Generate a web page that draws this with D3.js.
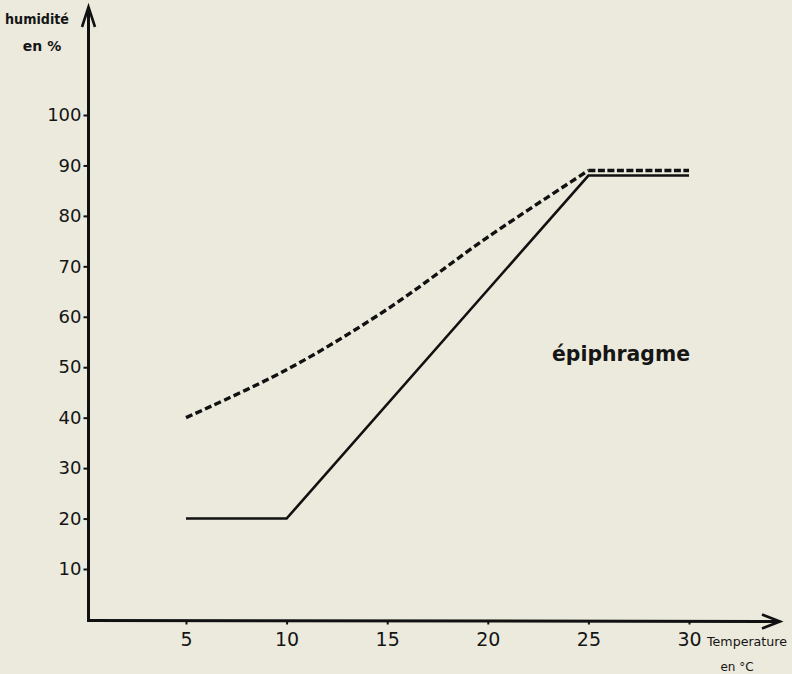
<!DOCTYPE html>
<html>
<head>
<meta charset="utf-8">
<script src="https://cdn.jsdelivr.net/npm/d3@7/dist/d3.min.js"></script>
<style>
  html, body { margin: 0; padding: 0; background: #ebeadc; }
  svg { display: block; }
  text { fill: #151515; font-family: "DejaVu Sans", sans-serif; }
</style>
</head>
<body>
<svg id="chart" width="792" height="674"></svg>
<script>
// ---- data ----
const temperatures = [5, 10, 15, 20, 25, 30];          // °C
const dashedHumidity = [40, 49.5, 61.5, 75.8, 89, 89]; // dashed curve
const solidTemps = [5, 10, 25, 30];
const solidHumidity = [20, 20, 88, 88];                 // solid line
const xTicks = [5, 10, 15, 20, 25, 30];
const yTicks = [10, 20, 30, 40, 50, 60, 70, 80, 90, 100];
const curveLabel = "épiphragme";
const yTitle = ["humidité", "en %"];
const xTitle = ["Temperature", "en °C"];

// ---- scales ----
const x = d3.scaleLinear().domain([5, 30]).range([186, 689]);
const y = d3.scaleLinear().domain([10, 100]).range([569, 115]);

const svg = d3.select("#chart");
const ink = "#111";
const originX = 88.5, originY = 620.5;

// axis lines with arrow heads
svg.append("line").attr("x1", originX).attr("y1", originY + 1)
  .attr("x2", originX).attr("y2", 8)
  .attr("stroke", ink).attr("stroke-width", 3);
svg.append("path").attr("d", `M${originX - 6.5},27 L${originX},7 L${originX + 6.5},27`)
  .attr("fill", "none").attr("stroke", ink).attr("stroke-width", 2.6).attr("stroke-linejoin", "miter");

svg.append("line").attr("x1", originX - 1.5).attr("y1", originY)
  .attr("x2", 779).attr("y2", originY + 1)
  .attr("stroke", ink).attr("stroke-width", 3);
svg.append("path").attr("d", `M762,614.5 L780,621.5 L762,628.5`)
  .attr("fill", "none").attr("stroke", ink).attr("stroke-width", 2.6);

// y axis ticks & labels
const yAxis = svg.append("g").attr("transform", `translate(${originX},0)`)
  .call(d3.axisLeft(y).tickValues(yTicks).tickSize(5).tickPadding(2).tickFormat(d => d));
yAxis.select(".domain").remove();
yAxis.selectAll(".tick line").attr("stroke", ink).attr("stroke-width", 2);
yAxis.selectAll("text").attr("font-size", 18).attr("font-family", "DejaVu Sans, sans-serif").attr("fill", "#151515");

// x axis ticks & labels
const xAxis = svg.append("g").attr("transform", `translate(0,${originY})`)
  .call(d3.axisBottom(x).tickValues(xTicks).tickSize(4).tickPadding(8).tickFormat(d => d));
xAxis.select(".domain").remove();
xAxis.selectAll(".tick line").attr("stroke", ink).attr("stroke-width", 2);
xAxis.selectAll("text").attr("font-size", 19).attr("font-family", "DejaVu Sans, sans-serif").attr("fill", "#151515");

// axis titles
svg.append("text").attr("x", 37).attr("y", 24).attr("text-anchor", "middle")
  .attr("font-size", 14).attr("font-weight", "bold")
  .attr("textLength", 64).attr("lengthAdjust", "spacingAndGlyphs").text(yTitle[0]);
svg.append("text").attr("x", 42).attr("y", 51).attr("text-anchor", "middle")
  .attr("font-size", 14).attr("font-weight", "bold").text(yTitle[1]);

svg.append("text").attr("x", 707).attr("y", 646)
  .attr("font-size", 12.5).attr("textLength", 80).attr("lengthAdjust", "spacingAndGlyphs").text(xTitle[0]);
svg.append("text").attr("x", 737).attr("y", 671).attr("text-anchor", "middle")
  .attr("font-size", 12).text(xTitle[1]);

// solid line
const solidPts = solidTemps.map((t, i) => [t, solidHumidity[i]]);
svg.append("path").datum(solidPts)
  .attr("d", d3.line().x(d => x(d[0])).y(d => y(d[1])).curve(d3.curveLinear))
  .attr("fill", "none").attr("stroke", ink).attr("stroke-width", 2.6).attr("stroke-linejoin", "miter");

// dashed curve: rising smooth part, then plateau
const dashedPts = temperatures.map((t, i) => [t, dashedHumidity[i]]);
svg.append("path").datum(dashedPts.slice(0, 5))
  .attr("d", d3.line().x(d => x(d[0])).y(d => y(d[1])).curve(d3.curveCatmullRom.alpha(0.5)))
  .attr("fill", "none").attr("stroke", ink).attr("stroke-width", 3.4)
  .attr("stroke-dasharray", "7,3.5");
svg.append("path").datum(dashedPts.slice(4))
  .attr("d", d3.line().x(d => x(d[0])).y(d => y(d[1])))
  .attr("fill", "none").attr("stroke", ink).attr("stroke-width", 3.4)
  .attr("stroke-dasharray", "7,2.5");

// label
svg.append("text").attr("x", 552).attr("y", 361)
  .attr("font-size", 21).attr("font-weight", "bold")
  .attr("textLength", 138).attr("lengthAdjust", "spacingAndGlyphs").text(curveLabel);
</script>
</body>
</html>
